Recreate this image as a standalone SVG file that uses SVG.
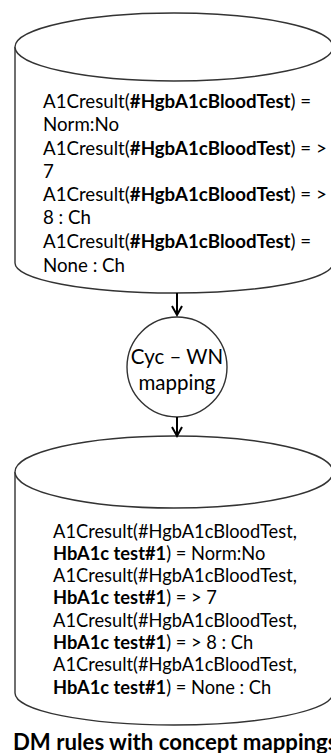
<svg xmlns="http://www.w3.org/2000/svg" width="331" height="753" viewBox="0 0 331 753">
<style>
.shape{fill:#fff;stroke:#333;stroke-width:1.4}
.t{font-family:Lato,"Liberation Sans",sans-serif;font-size:18.7px;fill:#000}
.t2{font-family:Lato,"Liberation Sans",sans-serif;font-size:18.3px;fill:#000}
.b{font-weight:bold}
.ct{font-family:Lato,"Liberation Sans",sans-serif;font-size:20.5px;fill:#000;text-anchor:middle}
.cap{font-family:Lato,"Liberation Sans",sans-serif;font-size:22.2px;font-weight:bold;fill:#000}
.conn{stroke:#000;stroke-width:2;fill:none}
</style>
<rect width="331" height="753" fill="#fff"/>
<g id="source-db">
<path class="shape" d="M15,47 L15,263 A159,30 0 0 0 333,263 L333,47"/>
<ellipse class="shape" cx="174" cy="47" rx="159" ry="34"/>
<text class="t" x="43" y="108">A1Cresult(<tspan class="b">#HgbA1cBloodTest</tspan>) =</text>
<text class="t" x="43" y="131">Norm:No</text>
<text class="t" x="43" y="155">A1Cresult(<tspan class="b">#HgbA1cBloodTest</tspan>) = &gt;</text>
<text class="t" x="43" y="178">7</text>
<text class="t" x="43" y="201">A1Cresult(<tspan class="b">#HgbA1cBloodTest</tspan>) = &gt;</text>
<text class="t" x="43" y="224">8 : Ch</text>
<text class="t" x="43" y="248">A1Cresult(<tspan class="b">#HgbA1cBloodTest</tspan>) =</text>
<text class="t" x="43" y="272">None : Ch</text>
</g>
<g id="mapping">
<circle class="shape" cx="177" cy="367" r="50"/>
<text class="ct" x="177" y="364">Cyc – WN</text>
<text class="ct" x="177" y="390">mapping</text>
</g>
<g id="target-db">
<path class="shape" d="M15,472 L15,693 A159,32 0 0 0 333,693 L333,472"/>
<ellipse class="shape" cx="174" cy="472" rx="159" ry="36"/>
<text class="t2" x="53" y="538">A1Cresult(#HgbA1cBloodTest,</text>
<text class="t2" x="53" y="560"><tspan class="b">HbA1c test#1</tspan>) = Norm:No</text>
<text class="t2" x="53" y="582">A1Cresult(#HgbA1cBloodTest,</text>
<text class="t2" x="53" y="604"><tspan class="b">HbA1c test#1</tspan>) = &gt; 7</text>
<text class="t2" x="53" y="627">A1Cresult(#HgbA1cBloodTest,</text>
<text class="t2" x="53" y="649"><tspan class="b">HbA1c test#1</tspan>) = &gt; 8 : Ch</text>
<text class="t2" x="53" y="671">A1Cresult(#HgbA1cBloodTest,</text>
<text class="t2" x="53" y="694"><tspan class="b">HbA1c test#1</tspan>) = None : Ch</text>
</g>
<g id="connectors">
<line class="conn" x1="177" y1="293" x2="177" y2="315"/>
<polyline class="conn" points="172,306 177,315 182,306"/>
<line class="conn" x1="177" y1="417" x2="177" y2="436"/>
<polyline class="conn" points="172,427 177,436 182,427"/>
</g>
<text class="cap" x="13" y="750">DM rules with concept mappings</text>
</svg>
